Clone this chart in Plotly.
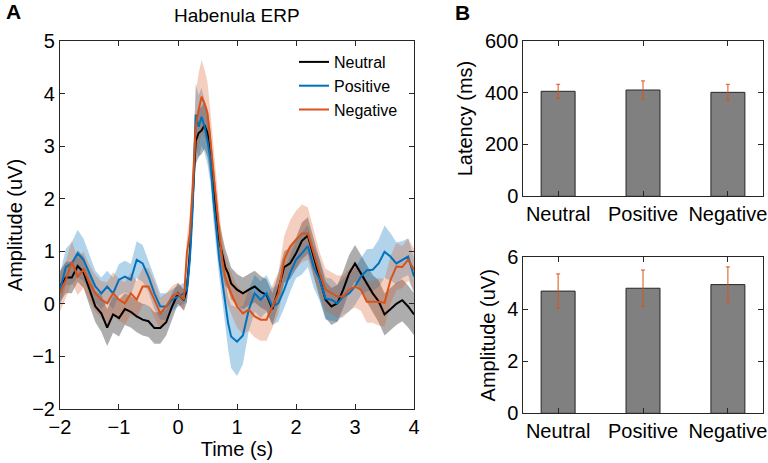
import plotly.graph_objects as go

# ---------------- data ----------------
time_s = [-2.0,-1.9,-1.8,-1.7,-1.6,-1.5,-1.4,-1.3,-1.2,-1.1,-1.0,-0.9,-0.8,-0.7,-0.6,-0.5,-0.4,-0.3,-0.2,-0.1,
          0.0,0.1,0.15,0.2,0.25,0.3,0.35,0.4,0.45,0.5,0.55,0.6,0.7,0.75,0.8,0.85,0.9,
          1.0,1.1,1.2,1.3,1.4,1.5,1.6,1.7,1.8,1.9,2.0,2.1,2.2,2.3,2.4,2.5,2.6,2.7,2.8,2.9,
          3.0,3.1,3.2,3.3,3.4,3.5,3.6,3.7,3.8,3.9,4.0]

neutral = [0.33,0.5,0.5,0.72,0.6,0.27,-0.05,-0.18,-0.45,-0.2,
           -0.27,-0.1,-0.15,-0.24,-0.3,-0.33,-0.46,-0.46,-0.35,-0.05,
           0.2,0.07,0.27,0.96,2.0,3.1,3.25,3.3,3.4,3.25,
           2.86,2.23,1.2,0.95,0.7,0.58,0.39,0.27,0.2,0.27,
           0.33,0.23,0.17,-0.1,0.27,0.7,0.77,0.96,1.2,1.3,
           0.9,0.46,0.08,-0.05,0.01,0.27,0.58,0.77,0.58,0.39,
           0.2,0.05,-0.2,-0.1,0.0,0.07,-0.05,-0.2]
positive = [0.27,0.7,0.77,0.96,0.84,0.58,0.33,0.2,0.33,0.2,
            0.46,0.52,0.46,0.84,0.77,0.52,0.2,-0.05,-0.05,0.08,
            0.14,0.2,0.27,0.84,1.85,3.6,3.37,3.56,3.37,3.1,
            2.74,1.98,0.84,0.46,0.08,-0.37,-0.62,-0.72,-0.6,-0.11,
            0.2,0.08,0.2,-0.05,0.01,0.27,0.58,0.84,0.96,1.1,
            0.7,0.46,0.1,0.08,0.01,0.14,0.2,0.33,0.52,0.64,
            0.65,0.77,0.99,0.9,0.77,0.84,0.9,0.52]
negative = [0.2,0.46,0.8,0.52,0.65,0.39,0.2,0.08,0.01,0.2,
            0.08,0.01,0.2,0.08,0.33,0.33,0.08,-0.18,-0.05,0.14,
            0.2,0.08,0.96,1.34,2.23,3.37,3.69,3.94,3.81,3.62,
            3.1,2.48,1.34,0.84,0.52,0.35,0.2,-0.05,-0.18,-0.11,
            -0.24,-0.3,-0.3,-0.05,0.2,0.84,1.09,1.22,1.34,1.34,
            0.96,0.58,0.27,0.2,0.14,0.14,0.27,0.33,0.27,0.04,
            0.04,0.04,0.02,0.45,0.71,0.7,0.84,0.65]

neutral_sem = [0.3,0.3,0.3,0.3,0.3,0.3,0.3,0.35,0.35,0.35,
               0.35,0.3,0.3,0.3,0.3,0.3,0.3,0.3,0.25,0.25,
               0.2,0.2,0.25,0.3,0.4,0.45,0.45,0.45,0.45,0.45,
               0.45,0.4,0.35,0.35,0.35,0.3,0.3,0.3,0.3,0.3,
               0.3,0.3,0.3,0.3,0.3,0.3,0.3,0.3,0.35,0.35,
               0.35,0.35,0.35,0.35,0.35,0.35,0.35,0.35,0.35,0.35,
               0.35,0.4,0.4,0.4,0.4,0.4,0.4,0.4]
positive_sem = [0.3,0.35,0.4,0.45,0.4,0.35,0.3,0.3,0.3,0.3,
                0.3,0.3,0.3,0.35,0.35,0.3,0.3,0.25,0.25,0.2,
                0.2,0.2,0.25,0.3,0.45,0.6,0.6,0.55,0.5,0.45,
                0.45,0.4,0.35,0.4,0.45,0.5,0.6,0.65,0.55,0.4,
                0.35,0.35,0.35,0.35,0.35,0.35,0.35,0.35,0.4,0.4,
                0.4,0.4,0.4,0.4,0.35,0.35,0.35,0.35,0.35,0.4,
                0.4,0.45,0.5,0.45,0.4,0.35,0.35,0.35]
negative_sem = [0.35,0.35,0.4,0.35,0.35,0.35,0.35,0.35,0.4,0.4,
                0.4,0.4,0.4,0.35,0.35,0.35,0.35,0.3,0.25,0.2,
                0.2,0.2,0.3,0.35,0.5,0.65,0.7,0.7,0.65,0.6,
                0.55,0.5,0.45,0.4,0.4,0.4,0.4,0.4,0.4,0.4,
                0.4,0.4,0.4,0.4,0.4,0.45,0.5,0.55,0.55,0.5,
                0.45,0.4,0.4,0.4,0.4,0.4,0.4,0.4,0.4,0.4,
                0.4,0.45,0.45,0.45,0.45,0.4,0.4,0.4]

conditions = ["Neutral", "Positive", "Negative"]
latency_ms = [405, 410, 401]
latency_err = [27, 35, 31]
amplitude_uv = [4.70, 4.81, 4.95]
amplitude_err = [0.66, 0.70, 0.68]

# ---------------- styles ----------------
FONT = "Liberation Sans, Arial, Helvetica, sans-serif"
AX = "#262626"
TICK = 20
TITLE = 20
series = [
    ("Neutral", neutral, neutral_sem, "#000000", "rgba(0,0,0,0.32)"),
    ("Positive", positive, positive_sem, "#0072BD", "rgba(0,114,189,0.3)"),
    ("Negative", negative, negative_sem, "#D95319", "rgba(217,83,25,0.28)"),
]

fig = go.Figure()

for name, vals, sem, col, fillc in series:
    upper = [v + s for v, s in zip(vals, sem)]
    lower = [v - s for v, s in zip(vals, sem)]
    fig.add_trace(go.Scatter(
        x=time_s + time_s[::-1], y=upper + lower[::-1],
        fill="toself", fillcolor=fillc, line=dict(width=0),
        hoverinfo="skip", showlegend=False, xaxis="x", yaxis="y"))

for name, vals, sem, col, fillc in series:
    fig.add_trace(go.Scatter(
        x=time_s, y=vals, mode="lines", name=name,
        line=dict(color=col, width=2), xaxis="x", yaxis="y"))

bar_x = [1, 2, 3]
fig.add_trace(go.Bar(
    x=bar_x, y=latency_ms, width=0.4, showlegend=False,
    marker=dict(color="#808080", line=dict(color="#262626", width=1)),
    error_y=dict(type="data", array=latency_err, color="#D95319", thickness=1, width=2),
    xaxis="x2", yaxis="y2"))
fig.add_trace(go.Bar(
    x=bar_x, y=amplitude_uv, width=0.4, showlegend=False,
    marker=dict(color="#808080", line=dict(color="#262626", width=1)),
    error_y=dict(type="data", array=amplitude_err, color="#D95319", thickness=1, width=2),
    xaxis="x3", yaxis="y3"))

common = dict(showline=True, linecolor=AX, linewidth=1, mirror="ticks",
              ticks="inside", ticklen=5, tickcolor=AX, showgrid=False,
              zeroline=False, automargin=False, ticklabeloverflow="allow",
              tickfont=dict(family=FONT, size=TICK, color="#000"))

fig.update_layout(
    width=768, height=463,
    margin=dict(l=0, r=0, t=0, b=0),
    paper_bgcolor="white", plot_bgcolor="white",
    font=dict(family=FONT, color="#000"),
    showlegend=True,
    legend=dict(x=294 / 768, xanchor="left", y=1 - 45 / 463, yanchor="top",
                bgcolor="rgba(0,0,0,0)", font=dict(family=FONT, size=16),
                itemwidth=30, tracegroupgap=0),
    xaxis=dict(domain=[0.0781, 0.5391], range=[-2, 4], tickvals=[-2, -1, 0, 1, 2, 3, 4],
               title=dict(text="Time (s)", font=dict(family=FONT, size=TITLE), standoff=2),
               anchor="y", **common),
    yaxis=dict(domain=[0.1166, 0.9114], range=[-2, 5], tickvals=[-2, -1, 0, 1, 2, 3, 4, 5],
               title=dict(text="Amplitude (uV)", font=dict(family=FONT, size=TITLE), standoff=4),
               anchor="x", **common),
    xaxis2=dict(domain=[0.6814, 0.9931], range=[0.59, 3.41], tickvals=bar_x, ticktext=conditions,
                anchor="y2", **common),
    yaxis2=dict(domain=[0.576, 0.912], range=[0, 600], tickvals=[0, 200, 400, 600],
                title=dict(text="Latency (ms)", font=dict(family=FONT, size=TITLE), standoff=6),
                anchor="x2", **common),
    xaxis3=dict(domain=[0.6814, 0.9931], range=[0.59, 3.41], tickvals=bar_x, ticktext=conditions,
                anchor="y3", **common),
    yaxis3=dict(domain=[0.1073, 0.4443], range=[0, 6], tickvals=[0, 2, 4, 6],
                title=dict(text="Amplitude (uV)", font=dict(family=FONT, size=TITLE), standoff=6),
                anchor="x3", **common),
    annotations=[
        dict(text="Habenula ERP", x=0.3086, y=1 - 16 / 463, xref="paper", yref="paper",
             showarrow=False, font=dict(family=FONT, size=19), xanchor="center", yanchor="middle"),
        dict(text="<b>A</b>", x=4 / 768, y=1 - 11 / 463, xref="paper", yref="paper",
             showarrow=False, font=dict(family=FONT, size=21), xanchor="left", yanchor="middle"),
        dict(text="<b>B</b>", x=453 / 768, y=1 - 12 / 463, xref="paper", yref="paper",
             showarrow=False, font=dict(family=FONT, size=21), xanchor="left", yanchor="middle"),
    ],
)

fig.write_html("out.html", config={"displayModeBar": False},
               post_script="document.body.style.margin='0';")
